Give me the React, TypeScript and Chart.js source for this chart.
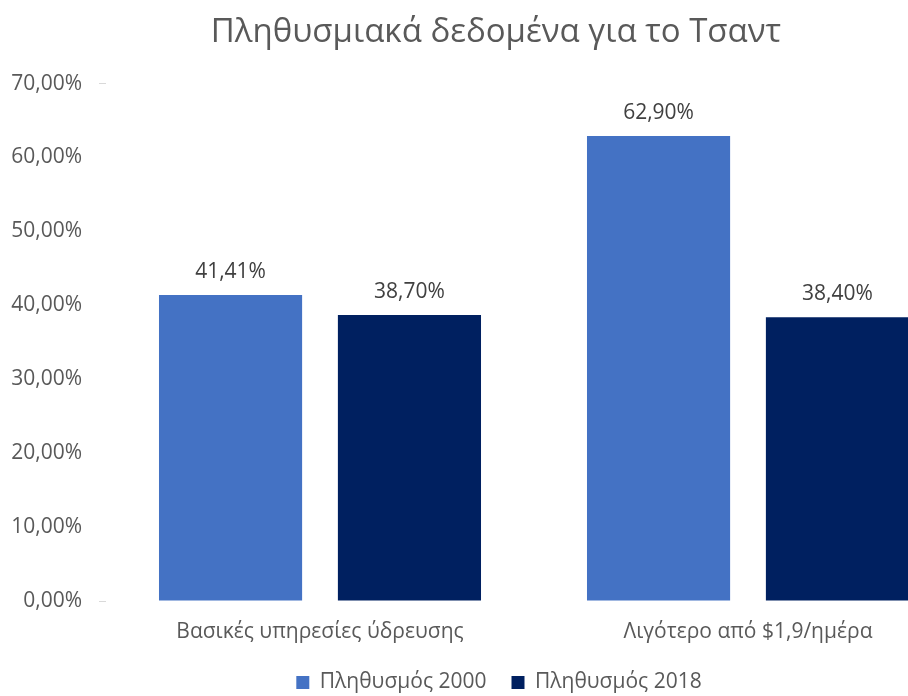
import React, { useEffect, useRef } from "react";
import { Chart, registerables } from "chart.js";

Chart.register(...registerables);

const chartTitle = "Πληθυσμιακά δεδομένα για το Τσαντ";
const categories = ["Βασικές υπηρεσίες ύδρευσης", "Λιγότερο από $1,9/ημέρα"];
const seriesNames = ["Πληθυσμός 2000", "Πληθυσμός 2018"];
const population2000 = [41.41, 62.9];
const population2018 = [38.7, 38.4];
const yMin = 0;
const yMax = 70;
const yStep = 10;

const FONT = "'Open Sans', 'Noto Sans', sans-serif";
const fmt = (v: number) => v.toFixed(2).replace(".", ",") + "%";

const dataLabelPlugin = {
  id: "dataLabels",
  afterDatasetsDraw(chart: any) {
    const ctx = chart.ctx;
    ctx.save();
    ctx.font = `21px ${FONT}`;
    ctx.fillStyle = "#404040";
    ctx.textAlign = "center";
    ctx.textBaseline = "middle";
    chart.data.datasets.forEach((ds: any, i: number) => {
      const meta = chart.getDatasetMeta(i);
      meta.data.forEach((el: any, j: number) => {
        ctx.fillText(fmt(ds.data[j]), el.x, el.y - 23);
      });
    });
    ctx.restore();
  },
};

// Centre the title and legend on the whole picture rather than on the
// box left of the right padding.
const centreBlocksPlugin = {
  id: "centreBlocks",
  afterLayout(chart: any) {
    const t = chart.titleBlock;
    if (t) {
      t.left += 15;
      t.right += 15;
    }
    const l = chart.legend;
    if (l) {
      l.left += 18;
      l.right += 18;
    }
  },
};

export default function App() {
  const ref = useRef<HTMLCanvasElement>(null);
  useEffect(() => {
    if (!ref.current) return;
    const chart = new Chart(ref.current, {
      type: "bar",
      data: {
        labels: categories,
        datasets: [
          {
            label: seriesNames[0],
            data: population2000,
            backgroundColor: "#4472C4",
            categoryPercentage: 0.836,
            barPercentage: 0.8,
          },
          {
            label: seriesNames[1],
            data: population2018,
            backgroundColor: "#002060",
            categoryPercentage: 0.836,
            barPercentage: 0.8,
          },
        ],
      },
      options: {
        responsive: false,
        animation: false,
        layout: { padding: { left: 0, right: 28, top: 0, bottom: -7 } },
        plugins: {
          title: {
            display: true,
            text: chartTitle,
            color: "#595959",
            font: { family: FONT, size: 33, weight: "normal" },
            padding: { top: 13, bottom: 31 },
          },
          legend: {
            position: "bottom",
            labels: {
              color: "#595959",
              font: { family: FONT, size: 21 },
              boxWidth: 13,
              boxHeight: 13,
              padding: 25,
            },
          },
          tooltip: { enabled: false },
        },
        scales: {
          x: {
            grid: { display: false },
            border: { display: false },
            ticks: {
              color: "#595959",
              font: { family: FONT, size: 21 },
              padding: 10,
            },
            afterFit: (s: any) => {
              s.height = 46;
            },
          },
          y: {
            min: yMin,
            max: yMax,
            border: { display: false },
            grid: {
              drawOnChartArea: false,
              drawTicks: true,
              tickLength: 7,
              color: (c: any) =>
                c.tick && (c.tick.value === yMin || c.tick.value === yMax)
                  ? "#d9d9d9"
                  : "rgba(0,0,0,0)",
            },
            ticks: {
              stepSize: yStep,
              color: "#595959",
              font: { family: FONT, size: 21 },
              padding: 17,
              callback: (v: any) => fmt(Number(v)),
            },
            afterFit: (s: any) => {
              s.width = 106;
            },
          },
        },
      },
      plugins: [dataLabelPlugin, centreBlocksPlugin],
    });
    return () => chart.destroy();
  }, []);

  return (
    <div
      style={{
        position: "fixed",
        left: 0,
        top: 0,
        width: 908,
        height: 696,
        overflow: "hidden",
        background: "#fff",
      }}
    >
      <canvas ref={ref} width={990} height={696} style={{ display: "block" }} />
    </div>
  );
}
